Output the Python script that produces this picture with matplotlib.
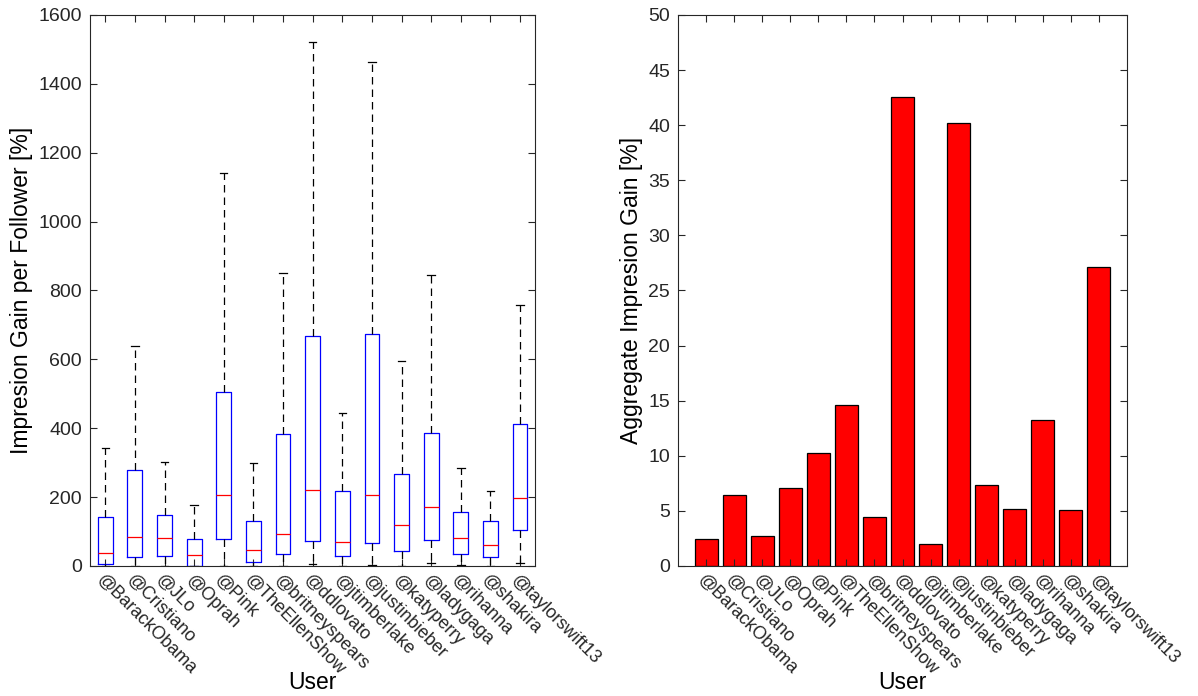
import matplotlib.pyplot as plt

plt.rcParams['font.family'] = ['Liberation Sans', 'DejaVu Sans']
plt.rcParams['text.color'] = '#262626'

users = ['@BarackObama', '@Cristiano', '@JLo', '@Oprah', '@Pink',
         '@TheEllenShow', '@britneyspears', '@ddlovato', '@jtimberlake',
         '@justinbieber', '@katyperry', '@ladygaga', '@rihanna', '@shakira',
         '@taylorswift13']

# per-follower gain distribution (box statistics, %)
whis_lo = [0, 0, 0, 0, 0, 0, 0, 7, 0, 3, 0, 9, 2, 0, 8]
q1 = [6, 26, 28, 1, 77, 13, 35, 73, 30, 67, 43, 75, 34, 25, 104]
median = [37, 84, 82, 32, 205, 45, 94, 222, 69, 206, 120, 170, 80, 62, 198]
q3 = [141, 278, 148, 79, 506, 130, 383, 667, 217, 675, 268, 387, 158, 130, 411]
whis_hi = [342, 639, 301, 178, 1142, 298, 851, 1521, 444, 1462, 594, 845,
           285, 218, 757]

# aggregate gain per user (%)
aggregate = [2.48, 6.47, 2.69, 7.04, 10.27, 14.62, 4.41, 42.54, 2.02, 40.18,
             7.31, 5.17, 13.26, 5.08, 27.11]

pos = list(range(1, len(users) + 1))

fig = plt.figure(figsize=(11.98, 6.96), dpi=100)
ax1 = fig.add_axes([0.0755, 0.1868, 0.371, 0.7917])
ax2 = fig.add_axes([0.5662, 0.1868, 0.3743, 0.7917])

stats = []
for i in range(len(users)):
    stats.append({'whislo': whis_lo[i], 'q1': q1[i], 'med': median[i],
                  'q3': q3[i], 'whishi': whis_hi[i], 'fliers': []})

ax1.bxp(stats, positions=pos, widths=0.5, capwidths=0.25, showfliers=False,
        boxprops=dict(color='blue', linewidth=0.9),
        medianprops=dict(color='red', linewidth=0.9),
        whiskerprops=dict(color='black', linestyle=(0, (6, 4)), linewidth=0.9),
        capprops=dict(color='black', linewidth=0.9))
ax1.set_xlim(0.5, 15.5)
ax1.set_ylim(0, 1600)
ax1.set_yticks(range(0, 1601, 200))
ax1.set_ylabel('Impresion Gain per Follower [%]', fontsize=16.5)

ax2.bar(pos, aggregate, width=0.8, color='red', edgecolor='black',
        linewidth=0.9)
ax2.set_xlim(0, 16)
ax2.set_ylim(0, 50)
ax2.set_yticks(range(0, 51, 5))
ax2.set_ylabel('Aggregate Impresion Gain [%]', fontsize=16.5)

for ax in (ax1, ax2):
    ax.set_xticks(pos)
    ax.set_xticklabels(users, rotation=-45, ha='left', va='top',
                       rotation_mode='anchor', fontsize=13)
    ax.set_xlabel('User', fontsize=16.5, va='center')
    ax.xaxis.set_label_coords(0.5, -0.212)
    ax.tick_params(direction='in', top=True, right=True, length=5,
                   width=0.8, color='#262626', labelcolor='#262626')
    ax.tick_params(axis='y', labelsize=14, pad=6)
    ax.tick_params(axis='x', pad=4)
    for s in ax.spines.values():
        s.set_color('#262626')
        s.set_linewidth(0.8)

fig.savefig('out.png', dpi=100)
